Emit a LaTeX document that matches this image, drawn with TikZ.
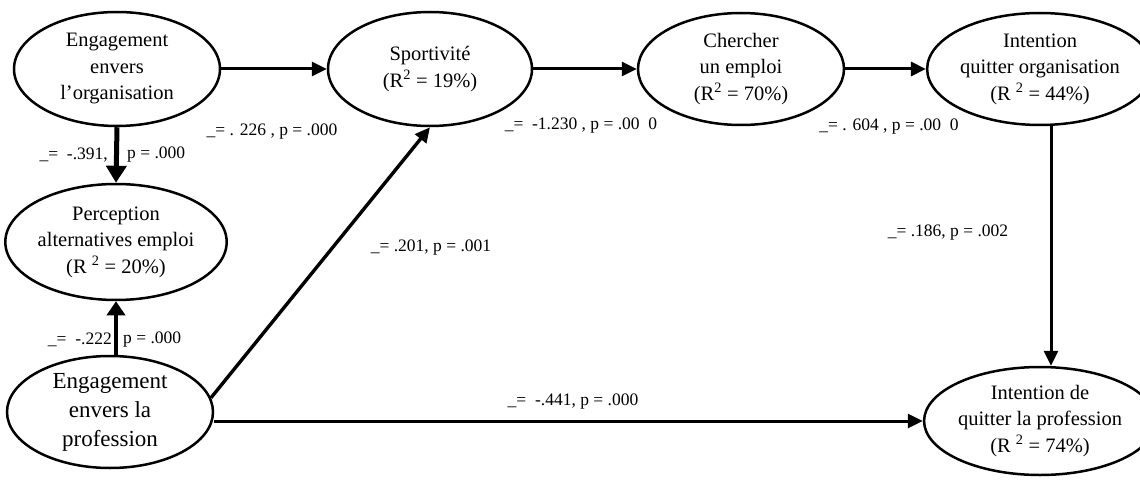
\documentclass[tikz,border=0pt]{standalone}
\usepackage{fontspec}
\setmainfont{Liberation Serif}
\usetikzlibrary{shapes.geometric,arrows.meta}

\tikzset{
  var/.style={draw=black, line width=2.5pt, ellipse, inner sep=0pt, align=center,
    font=\fontsize{20.5}{26.5}\selectfont},
  bigvar/.style={var, font=\fontsize{23}{29}\selectfont},
  link/.style={draw=black, line width=3pt, -{Triangle[length=15pt,width=14pt]}},
  heavylink/.style={draw=black, line width=5pt, -{Triangle[length=17pt,width=20pt]}},
  coef/.style={inner sep=0pt, font=\fontsize{17.5}{20}\selectfont}
}

\begin{document}
\begin{tikzpicture}[x=1pt, y=-1pt]
\useasboundingbox (0,0) rectangle (1140,481);

% latent variables
\node[var, minimum width=206pt, minimum height=114pt] (eo) at (117,69)
  {Engagement\\envers\\l’organisation};
\node[var, minimum width=204pt, minimum height=114pt] (sp) at (430,69)
  {Sportivité\\(R\textsuperscript{2} = 19\%)};
\node[var, minimum width=206pt, minimum height=112pt] (ce) at (741,69)
  {Chercher\\un emploi\\(R\textsuperscript{2} = 70\%)};
\node[var, minimum width=196pt, minimum height=112pt] (io) at (1040,69)
  {Intention\\quitter organisation\\(R \textsuperscript{2} = 44\%)};
\node[var, minimum width=206pt, minimum height=116pt] (pa) at (116,242)
  {Perception\\alternatives emploi\\(R \textsuperscript{2} = 20\%)};
\node[bigvar, minimum width=206pt, minimum height=112pt] (ep) at (110,412)
  {Engagement\\envers la\\profession};
\node[var, minimum width=196pt, minimum height=108pt] (ip) at (1040,421)
  {Intention de\\quitter la profession\\(R \textsuperscript{2} = 74\%)};

% structural paths
\draw[link] (eo) -- (sp);
\draw[link] (sp) -- (ce);
\draw[link] (ce) -- (io);
\draw[link] ([xshift=11pt]io.south) -- ([xshift=11pt]ip.north);
\draw[heavylink] (eo.south) -- (pa.north);
\draw[link, line width=4.5pt, -{Triangle[length=14pt,width=18pt]}] (pa.south |- ep.north) -- (pa.south);
\draw[link, line width=3.4pt] (ep.8) -- (sp.south);
\draw[link] (ep.east |- ip.west) -- (ip.west);

% path coefficients
\node[coef] (c1) at (272,132) {\_= . 226 , p = .000};
\node[coef, anchor=east] (c2a) at (108,155) {\_=\ \ -.391,};
\node[coef, anchor=west] (c2b) at (127,155) {p = .000};
\node[coef, anchor=east] (c3a) at (112,340) {\_=\ \ -.222};
\node[coef, anchor=west] (c3b) at (123,340) {p = .000};
\node[coef] (c4) at (431,248) {\_= .201, p = .001};
\node[coef] (c5) at (581,126) {\_=\ \ -1.230 , p = .00\ \ 0};
\node[coef] (c6) at (889,127) {\_= . 604 , p = .00\ \ 0};
\node[coef] (c7) at (948,233) {\_= .186, p = .002};
\node[coef] (c8) at (573,402) {\_=\ \ -.441, p = .000};
\end{tikzpicture}
\end{document}
